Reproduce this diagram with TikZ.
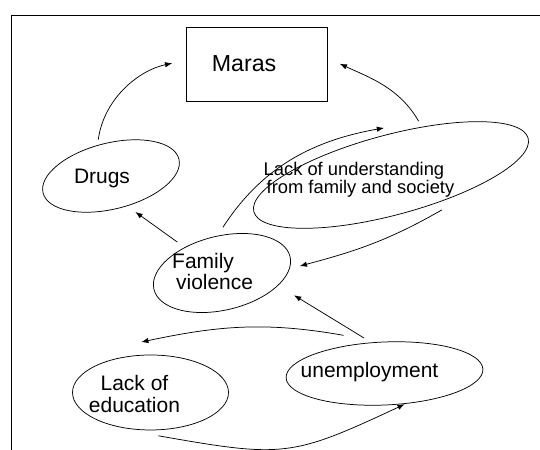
\documentclass[tikz,border=0pt]{standalone}
\usepackage{fontspec}
\setmainfont{Liberation Sans}
\usetikzlibrary{shapes.geometric,arrows.meta}

\begin{document}
\begin{tikzpicture}[>=Latex]
    \tikzset{
        oval/.style={draw, ellipse, inner sep=0pt, outer sep=0pt, line width=0.7pt},
        txt/.style={inner sep=0pt, align=left, font=\fontsize{19.9pt}{19.9pt}\selectfont},
        flow/.style={-{Latex[length=2.4mm,width=1.8mm]}, line width=0.7pt}
    }
    \useasboundingbox (0,0) rectangle (18,15);

    % frame
    \draw[line width=1.5pt] (0.383,0) -- (0.383,14.483) -- (18,14.483);

    \node[draw, rectangle, line width=0.7pt, minimum width=4.7cm, minimum height=2.467cm,
          inner sep=0pt, outer sep=0pt, font=\fontsize{22pt}{22pt}\selectfont]
          (maras) at (8.55,12.867) {Maras\hspace*{0.83cm}};
    \node[oval, rotate=14, minimum width=4.667cm, minimum height=2.2cm] (drugs) at (3.7,9.133) {};
    \node[oval, rotate=15, minimum width=9.467cm, minimum height=2.667cm] (lackund) at (13.033,9.167) {};
    \node[oval, rotate=13.5, minimum width=4.667cm, minimum height=2.467cm] (famvio) at (7.4,5.9) {};
    \node[oval, rotate=2.5, minimum width=6.567cm, minimum height=2.1cm] (unemp) at (12.817,2.55) {};
    \node[oval, minimum width=5.2cm, minimum height=2.5cm] (lackedu) at (5.017,1.917) {};

    \node[txt, anchor=base] (drugstxt) at (3.4,8.89) {Drugs};
    \node[txt, anchor=north west, font=\fontsize{17.4pt}{17pt}\selectfont] (lackundtxt) at (8.783,9.6)
          {Lack of understanding\\\hspace*{0.1cm}from family and society};
    \node[txt, anchor=north west, font=\fontsize{19.9pt}{19.9pt}\selectfont] (famviotxt) at (5.733,6.567)
          {Family\\\hspace*{0.13cm}violence};
    \node[txt, anchor=base] (unemptxt) at (12.317,2.433) {unemployment};
    \node[txt, anchor=north, align=center, font=\fontsize{19.9pt}{20.9pt}\selectfont] (lackedutxt) at (4.483,2.5)
          {Lack of\\education};

    \draw[flow, shorten <=0.2cm, shorten >=0.47cm] (drugs.100) to[out=82, in=192] (maras.177);
    \draw[flow, shorten <=0.23cm, shorten >=0.47cm] (lackund.42) to[out=120, in=-25] (maras.5);
    \draw[flow, shorten <=0.35cm] (famvio.84) to[out=57, in=190] ([yshift=0.25cm]lackund.85);
    \draw[flow, shorten >=0.36cm] ([yshift=-0.3cm]lackund.318) to[out=210, in=15] (famvio.350);
    \draw[flow, shorten <=0.31cm, shorten >=0.35cm] (famvio.132) -- (drugs.284);
    \draw[flow, shorten <=0.3cm, shorten >=0.63cm] (unemp.110) -- (famvio.334);
    \draw[flow] ([yshift=0.37cm]unemp.144) to[out=170, in=12] ([yshift=0.44cm]lackedu.104);
    \draw[flow, shorten >=0.07cm] ([yshift=-0.2cm]lackedu.282) to[out=-10, in=205, looseness=1.3] (unemp.304);
\end{tikzpicture}
\end{document}
